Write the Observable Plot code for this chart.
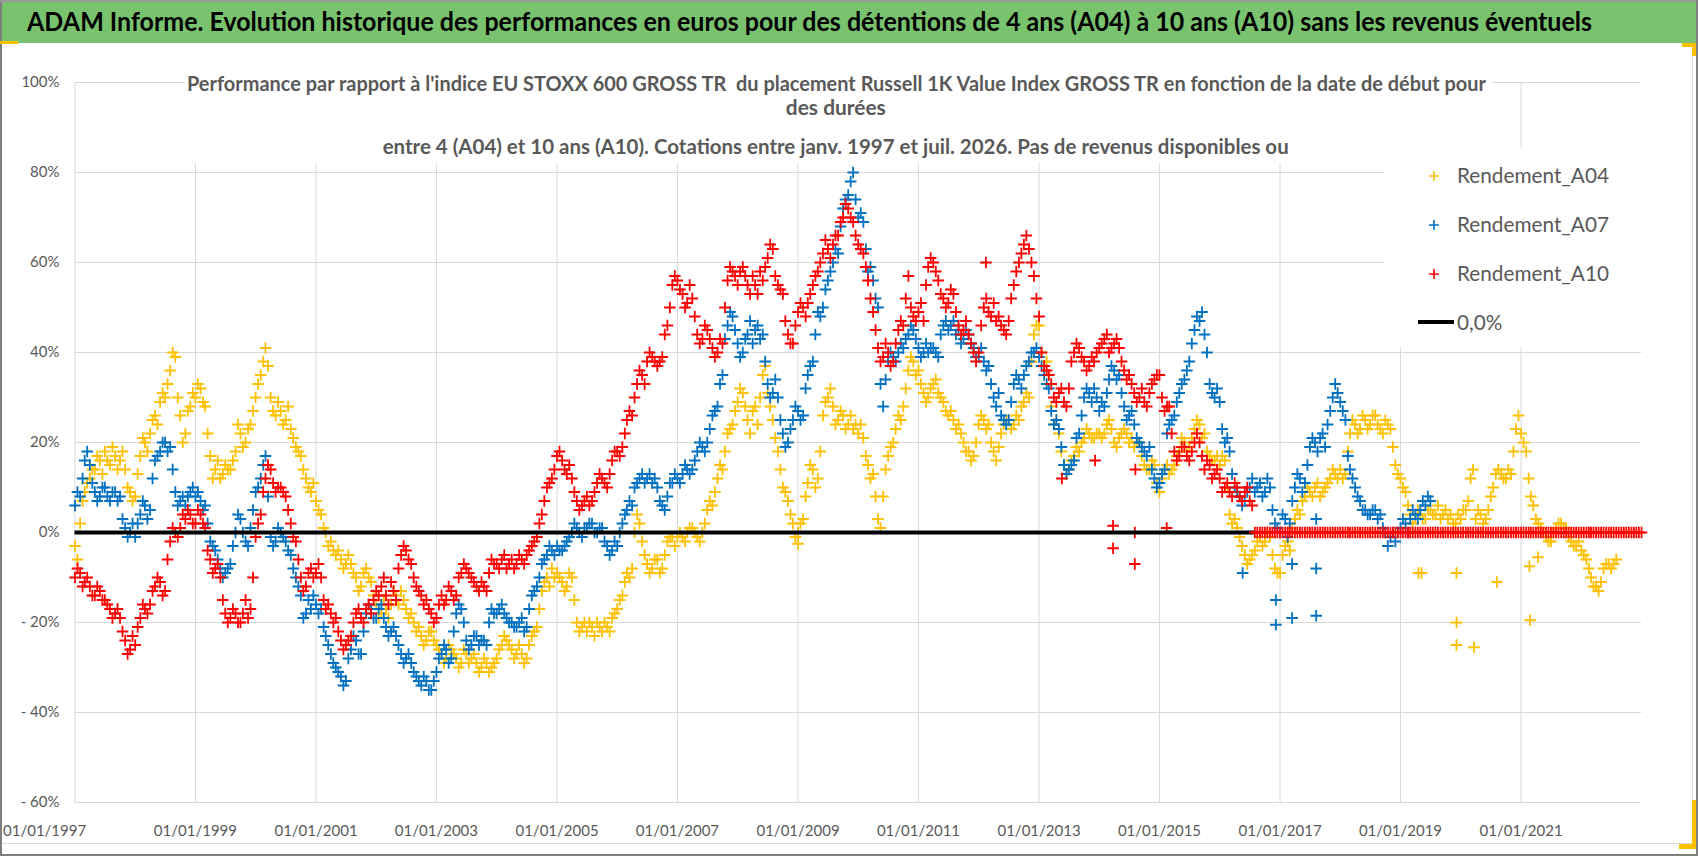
<!DOCTYPE html>
<html><head><meta charset="utf-8">
<script src="https://cdn.jsdelivr.net/npm/d3@7"></script>
<script src="https://cdn.jsdelivr.net/npm/@observablehq/plot@0.6"></script>
<style>
body{margin:0;background:#fff;}
#wrap{position:relative;width:1698px;height:856px;overflow:hidden;background:#fff;font-family:Lato,"Open Sans",sans-serif;}
#plot{position:absolute;left:0;top:43px;}
#header{position:absolute;left:0;top:0;width:1698px;height:43px;background:#79c36f;}
#title{position:absolute;left:27px;top:0;line-height:43px;font-size:26px;font-weight:700;color:#000;white-space:nowrap;display:inline-block;transform-origin:left center;}
#subbox{position:absolute;left:185px;top:64px;width:1307px;height:99px;background:#fff;}
.subline{position:absolute;left:0;width:1672px;text-align:center;line-height:24px;height:24px;}
.subline span{display:inline-block;font-size:20px;font-weight:700;color:#595959;white-space:pre;transform-origin:center center;}
#legend{position:absolute;left:1384px;top:148px;width:260px;height:199px;background:#fff;}
.lrow{position:absolute;left:1428px;height:28px;line-height:28px;}
.lrow svg{position:absolute;left:0;top:9px;}
.lrow span{position:absolute;left:29px;top:0;font-size:22px;color:#595959;white-space:nowrap;display:inline-block;transform-origin:left center;}
.bar{position:absolute;}
</style></head>
<body>
<div id="wrap">
  <div id="plot"></div>
  <div id="header"><div id="title">ADAM Informe. Evolution historique des performances en euros pour des détentions de 4 ans (A04) à 10 ans (A10) sans les revenus éventuels</div></div>
  <div id="subbox"></div>
  <div class="subline" style="top:71px"><span id="s1">Performance par rapport à l'indice EU STOXX 600 GROSS TR  du placement Russell 1K Value Index GROSS TR en fonction de la date de début pour</span></div>
  <div class="subline" style="top:95px"><span id="s2">des durées</span></div>
  <div class="subline" style="top:134px"><span id="s3">entre 4 (A04) et 10 ans (A10). Cotations entre janv. 1997 et juil. 2026. Pas de revenus disponibles ou</span></div>
  <div id="legend"></div>
  <div class="lrow" style="top:161px"><svg width="12" height="12"><path d="M1,6H11M6,1V11" stroke="#FFC000" stroke-width="1.6"/></svg><span id="l1">Rendement_A04</span></div>
  <div class="lrow" style="top:210px"><svg width="12" height="12"><path d="M1,6H11M6,1V11" stroke="#0070C0" stroke-width="1.6"/></svg><span id="l2">Rendement_A07</span></div>
  <div class="lrow" style="top:259px"><svg width="12" height="12"><path d="M1,6H11M6,1V11" stroke="#FF0000" stroke-width="1.6"/></svg><span id="l3">Rendement_A10</span></div>
  <div class="lrow" style="top:308px"><span id="l4">0,0%</span></div>
  <div class="bar" style="left:1418px;top:320px;width:36px;height:4px;background:#000"></div>
  <!-- frame -->
  <div class="bar" style="left:0;top:0;width:2px;height:856px;background:#7f7f7f"></div>
  <div class="bar" style="left:0;top:0;width:1698px;height:2px;background:#9a9a9a"></div>
  <div class="bar" style="left:0;top:854px;width:1698px;height:2px;background:#7f7f7f"></div>
  <div class="bar" style="left:1696px;top:0;width:2px;height:856px;background:#7f7f7f"></div>
  <div class="bar" style="left:2px;top:843px;width:1692px;height:1px;background:#d9d9d9"></div>
  <div class="bar" style="left:1692px;top:43px;width:1px;height:800px;background:#d9d9d9"></div>
  <div class="bar" style="left:0;top:41px;width:18px;height:3px;background:#FFC000"></div>
  <div class="bar" style="left:1682px;top:43px;width:14px;height:4px;background:#FFC000"></div>
  <div class="bar" style="left:1692px;top:43px;width:4px;height:13px;background:#FFC000"></div>
  <div class="bar" style="left:1692px;top:800px;width:4px;height:49px;background:#FFC000"></div>
  <div class="bar" style="left:1679px;top:844px;width:17px;height:5px;background:#FFC000"></div>
</div>
<script>
// ---- data: percent, read at the 1st (a..) and the 16th (..Mid) of each month from Jan 1997 ----
const START_YEAR = 1997;
const seriesNames = ["Rendement_A04", "Rendement_A07", "Rendement_A10"];
const seriesColors = ["#FFC000", "#0070C0", "#FF0000"];
const a04 = [
 -3, 2, 9, 12, 14, 16, 18, 15, 17, 16, 14, 9,
 8, 17, 20, 22, 26, 29, 30, 36, 39, 26, 22, 28,
 30, 32, 28, 17, 14, 12, 15, 14, 18, 22, 20, 24,
 30, 35, 41, 30, 26, 27, 25, 23, 19, 17, 12, 9,
 7, 4, 0, -2, -5, -6, -7, -7, -10, -12, -8, -11,
 -16, -18, -17, -16, -14, -13, -17, -18, -22, -23, -24, -22,
 -25, -27, -28, -26, -28, -29, -27, -28, -29, -30, -29, -30,
 -28, -25, -24, -26, -27, -27, -28, -23, -21, -13, -10, -8,
 -9, -11, -12, -10, -20, -21, -22, -21, -20, -22, -21, -19,
 -17, -14, -9, -8, 4, -2, -7, -8, -6, -8, -2, -1,
 -1, -1, 0, 1, -1, 0, 5, 6, 12, 14, 22, 24,
 29, 31, 25, 27, 24, 35, 31, 25, 18, 10, 7, 2,
 0, 3, 11, 14, 12, 26, 30, 28, 25, 26, 24, 23,
 22, 21, 15, 13, 3, 8, 17, 20, 26, 28, 36, 38,
 36, 31, 30, 33, 31, 29, 26, 25, 24, 20, 18, 17,
 24, 25, 24, 18, 19, 24, 25, 24, 25, 29, 30, 44,
 46, 37, 35, 24, 22, 15, 14, 17, 18, 21, 22, 21,
 22, 22, 25, 20, 21, 23, 20, 19, 20, 15, 14, 15,
 9, 14, 13, 15, 18, 20, 19, 23, 24, 22, 17, 16,
 15, 16, 4, 3, -1, -5, -6, -4, -1, -2, -1, -8,
 -9, -3, -4, 3, 4, 8, 9, 10, 8, 10, 12, 13,
 14, 13, 22, 24, 23, 25, 24, 26, 23, 25, 23, 15,
 12, 9, 4, 3, 4, 3, 5, 4, 3, 5, 4, 2,
 3, 5, 12, 3, 4, 3, 8, 13, 13, 12, 13, 23,
 22, 18, 8, 3, 1, -1, -2, 1, 2, 1, -2, -3,
 -4, -6, -10, -12, -11, -7, -8, -6
];
const a04Mid = [
 -6, 7, 11, 14, 17, 13, 16, 19, 14, 18, 10, 7,
 13, 21, 18, 25, 24, 31, 33, 40, 30, 20, 27, 31,
 33, 29, 22, 12, 16, 13, 14, 16, 24, 19, 23, 27,
 33, 38, 37, 27, 29, 24, 28, 21, 18, 14, 10, 11,
 5, 1, -3, -4, -4, -8, -5, -9, -13, -9, -10, -14,
 -19, -15, -19, -13, -16, -15, -19, -20, -21, -25, -22, -24,
 -26, -29, -25, -27, -30, -26, -29, -27, -31, -28, -31, -29,
 -26, -23, -25, -28, -25, -29, -25, -22, -17, -11, -12, -10,
 -10, -13, -9, -15, -22, -20, -20, -23, -21, -20, -22, -18,
 -15, -11, -10, 0, 2, -5, -9, -6, -9, -5, -1, -3,
 0, -2, 1, 0, -2, 2, 7, 9, 15, 18, 23, 27,
 32, 28, 22, 28, 30, 37, 28, 21, 14, 9, 4, -1,
 2, 8, 15, 10, 18, 29, 32, 24, 27, 23, 26, 24,
 24, 17, 12, 8, 1, 14, 19, 23, 25, 32, 39, 35,
 33, 29, 32, 34, 30, 27, 27, 23, 22, 18, 16, 20,
 26, 23, 20, 16, 22, 25, 23, 26, 28, 31, 38, 46,
 40, 38, 28, 25, 18, 13, 16, 19, 20, 23, 21, 22,
 21, 24, 23, 19, 22, 22, 21, 20, 17, 14, 16, 11,
 12, 15, 14, 17, 21, 18, 21, 25, 21, 18, 16, 17,
 17, 10, 2, 1, -3, -7, -5, -2, -3, 0, -5, -9,
 -5, -2, 1, 5, 7, 10, 8, 11, 9, 11, 14, 12,
 12, 18, 25, 22, 26, 23, 26, 24, 22, 24, 19, 13,
 10, 6, 2, 5, 3, 5, 4, 6, 4, 3, 2, 4,
 5, 7, 14, 5, 2, 5, 10, 14, 12, 14, 18, 26,
 20, 12, 6, 2, 0, -2, 0, 2, 1, -1, -3, -2,
 -5, -8, -12, -13, -8, -7, -7
];
const a07 = [
 6, 8, 16, 15, 9, 8, 10, 7, 9, 8, 1, 0,
 -1, 4, 6, 5, 16, 18, 20, 19, 9, 7, 6, 9,
 8, 7, 6, -2, -4, -8, -9, -7, 0, 3, -2, 1,
 9, 12, 17, -1, -2, 0, -2, -5, -10, -14, -18, -17,
 -16, -17, -23, -27, -30, -32, -33, -26, -24, -27, -18, -17,
 -19, -16, -21, -22, -23, -27, -28, -29, -32, -34, -33, -35,
 -31, -27, -26, -28, -18, -17, -24, -25, -23, -24, -25, -17,
 -18, -16, -19, -20, -21, -19, -21, -14, -12, -7, -5, -4,
 -3, -4, -2, 0, 1, -1, 1, 2, 0, 1, -3, -4,
 -3, 2, 5, 6, 11, 13, 12, 11, 10, 6, 8, 11,
 12, 13, 14, 14, 18, 19, 20, 26, 28, 35, 46, 48,
 42, 40, 44, 42, 46, 44, 33, 31, 30, 22, 20, 25,
 27, 26, 35, 38, 49, 50, 56, 60, 62, 72, 75, 80,
 70, 69, 58, 56, 50, 28, 38, 39, 40, 41, 44, 45,
 41, 40, 40, 41, 39, 46, 45, 47, 45, 43, 44, 41,
 39, 38, 37, 30, 31, 25, 25, 33, 34, 35, 38, 40,
 39, 35, 32, 24, 23, 15, 14, 16, 22, 30, 31, 32,
 27, 28, 34, 36, 35, 28, 26, 24, 20, 18, 19, 12,
 11, 14, 24, 26, 31, 34, 38, 45, 47, 44, 33, 30,
 29, 20, 18, 10, 8, 7, 10, 9, 11, 9, 10, 2,
 0, 3, 2, 10, 12, 11, 19, 20, 21, 19, 27, 33,
 29, 25, 14, 10, 7, 5, 4, 5, 4, 0, -1, -2,
 1, 2, 3, 4, 5, 6, 7
];
const a07Mid = [
 9, 12, 18, 11, 7, 10, 8, 9, 7, 3, -1, 2,
 2, 7, 3, 12, 17, 20, 18, 14, 6, 8, 8, 10,
 9, 5, 2, -3, -6, -10, -8, -3, 4, 0, -3, 5,
 10, 15, 8, -3, 1, -1, -4, -8, -12, -19, -15, -14,
 -18, -21, -25, -29, -31, -34, -28, -23, -27, -22, -16, -19,
 -17, -19, -23, -21, -25, -29, -27, -31, -33, -32, -35, -33,
 -28, -25, -29, -22, -16, -20, -26, -23, -25, -24, -20, -18,
 -17, -18, -20, -21, -20, -22, -17, -13, -10, -6, -3, -5,
 -4, -3, -1, 2, 0, 1, 2, 0, 1, -2, -5, -2,
 0, 4, 7, 10, 12, 11, 13, 12, 7, 5, 11, 13,
 11, 15, 13, 16, 20, 18, 23, 27, 33, 43, 49, 45,
 39, 43, 47, 45, 43, 38, 30, 34, 25, 19, 23, 28,
 25, 32, 37, 44, 48, 54, 58, 63, 68, 74, 78, 74,
 71, 63, 59, 52, 33, 34, 40, 38, 42, 43, 46, 43,
 39, 42, 41, 40, 44, 47, 46, 44, 42, 45, 42, 39,
 41, 36, 33, 28, 26, 24, 29, 35, 32, 37, 40, 41,
 37, 33, 27, 25, 19, 13, 15, 21, 26, 32, 29, 30,
 29, 31, 37, 34, 31, 25, 27, 21, 19, 17, 14, 10,
 13, 22, 25, 29, 33, 36, 42, 48, 49, 40, 31, 32,
 23, 21, 13, 9, 6, 9, 12, 10, 8, 12, 5, 1,
 4, -1, 7, 13, 9, 15, 21, 18, 22, 24, 30, 31,
 27, 17, 12, 8, 5, 4, 5, 3, 1, -3, 0, 0,
 3, 0, 5, 3, 7, 8
];
const a10 = [
 -10, -9, -11, -12, -14, -13, -15, -17, -18, -19, -24, -26,
 -25, -19, -17, -16, -12, -11, -13, -2, 0, 1, 3, 4,
 2, 4, 1, -6, -8, -10, -18, -19, -18, -20, -15, -17,
 -1, 4, 12, 14, 9, 10, 8, 2, -2, -10, -12, -8,
 -9, -10, -17, -18, -19, -24, -25, -23, -18, -19, -17, -18,
 -13, -12, -14, -11, -15, -5, -4, -7, -12, -14, -15, -18,
 -19, -14, -15, -13, -14, -9, -8, -10, -12, -11, -13, -6,
 -7, -6, -8, -6, -7, -6, -5, -3, -1, 4, 10, 12,
 17, 16, 13, 12, 7, 6, 8, 7, 11, 12, 10, 16,
 18, 19, 25, 26, 33, 35, 38, 39, 37, 39, 46, 55,
 56, 53, 51, 52, 44, 43, 45, 41, 40, 42, 56, 58,
 55, 59, 55, 57, 53, 56, 61, 63, 55, 53, 44, 42,
 49, 50, 51, 55, 58, 62, 63, 64, 66, 70, 72, 69,
 64, 62, 56, 49, 41, 39, 40, 38, 45, 46, 57, 48,
 49, 47, 59, 60, 56, 52, 51, 53, 46, 45, 44, 40,
 40, 50, 49, 51, 48, 45, 47, 55, 60, 64, 63, 57,
 48, 37, 35, 30, 31, 29, 32, 40, 41, 38, 37, 38,
 41, 43, 40, 42, 41, 36, 35, 31, 30, 29, 31, 34,
 35, 27, 28, 18, 17, 19, 16, 20, 20, 14, 15, 13,
 12, 10, 9, 11, 8, 9, 7, 0, 0, 0, 0, 0,
 0, 0, 0, 0, 0, 0, 0, 0, 0, 0, 0, 0,
 0, 0, 0, 0, 0, 0, 0, 0, 0, 0, 0, 0,
 0, 0, 0, 0, 0, 0, 0, 0, 0, 0, 0, 0,
 0, 0, 0, 0, 0, 0, 0, 0, 0, 0, 0, 0,
 0, 0, 0, 0, 0, 0, 0, 0, 0, 0, 0, 0,
 0, 0, 0, 0, 0, 0, 0, 0, 0, 0, 0, 0,
 0
];
const a10Mid = [
 -8, -12, -10, -14, -12, -15, -16, -19, -17, -22, -27, -23,
 -21, -16, -18, -13, -10, -14, -6, 1, -1, 4, 5, 2,
 5, 2, -4, -9, -7, -15, -20, -17, -20, -18, -19, -10,
 2, 9, 15, 11, 10, 9, 5, -1, -6, -13, -9, -10,
 -7, -15, -16, -20, -22, -26, -24, -20, -17, -20, -16, -15,
 -14, -10, -16, -13, -8, -3, -6, -10, -13, -16, -17, -20,
 -16, -16, -12, -15, -10, -7, -9, -11, -13, -12, -9, -7,
 -8, -5, -7, -8, -5, -7, -4, -2, 2, 7, 11, 14,
 18, 14, 15, 9, 5, 7, 6, 9, 13, 11, 13, 18,
 17, 22, 27, 30, 36, 33, 40, 38, 38, 44, 50, 57,
 54, 50, 55, 48, 42, 46, 43, 39, 43, 50, 59, 57,
 58, 57, 53, 55, 58, 59, 64, 57, 54, 47, 42, 46,
 51, 48, 53, 57, 60, 65, 61, 66, 69, 73, 70, 66,
 63, 59, 52, 45, 38, 42, 37, 42, 47, 52, 50, 47,
 51, 55, 61, 58, 53, 50, 54, 49, 44, 47, 42, 38,
 46, 52, 48, 47, 46, 44, 52, 58, 62, 66, 60, 52,
 40, 36, 33, 29, 32, 28, 38, 42, 39, 36, 39, 40,
 42, 44, 41, 43, 38, 34, 33, 29, 32, 28, 33, 35,
 30, 28, 22, 16, 19, 17, 18, 22, 17, 16, 12, 14,
 9, 11, 8, 10, 7, 10, 6, 0, 0, 0, 0, 0,
 0, 0, 0, 0, 0, 0, 0, 0, 0, 0, 0, 0,
 0, 0, 0, 0, 0, 0, 0, 0, 0, 0, 0, 0,
 0, 0, 0, 0, 0, 0, 0, 0, 0, 0, 0, 0,
 0, 0, 0, 0, 0, 0, 0, 0, 0, 0, 0, 0,
 0, 0, 0, 0, 0, 0, 0, 0, 0, 0, 0, 0,
 0, 0, 0, 0, 0, 0, 0, 0, 0, 0, 0, 0
];
// isolated points [decimal year, percent]
const a04Extra = [[2009.0, -2.5], [2019.3, -9], [2019.35, -9], [2019.93, -9], [2019.93, -20], [2019.93, -25], [2020.22, -25.5], [2020.6, -11], [2021.14, -7.5], [2021.28, -5.5], [2021.15, -19.5]];
const a07Extra = [[2016.38, -9], [2016.93, -20.5], [2016.93, -15], [2017.2, -19], [2017.2, -7], [2017.6, -8], [2017.6, -18.5], [2017.6, 3]];
const a10Extra = [[2012.12, 60], [2013.38, 12], [2013.93, 16], [2014.23, 1.5], [2014.23, -3.5], [2014.59, 0], [2014.59, -7], [2014.6, 14], [2015.12, 1]];
const xTickYears = [1997, 1999, 2001, 2003, 2005, 2007, 2009, 2011, 2013, 2015, 2017, 2019, 2021];
const xDomainYears = [1997, 2023];
const yTicks = [-60, -40, -20, 0, 20, 40, 60, 80, 100];

// ---- build table ----
const monthDate = (i, day) => new Date(Date.UTC(START_YEAR, i, day));
const yearDate = y => { const yr = Math.floor(y), t0 = Date.UTC(yr, 0, 1), t1 = Date.UTC(yr + 1, 0, 1); return new Date(t0 + (y - yr) * (t1 - t0)); };
const rows = [];
[[a04, a04Mid, a04Extra], [a07, a07Mid, a07Extra], [a10, a10Mid, a10Extra]].forEach(([vals, mids, extra], k) => {
  vals.forEach((v, i) => rows.push({s: seriesNames[k], date: monthDate(i, 1), v}));
  mids.forEach((v, i) => rows.push({s: seriesNames[k], date: monthDate(i, 16), v}));
  extra.forEach(([y, v]) => rows.push({s: seriesNames[k], date: yearDate(y), v}));
});
const tickDates = xTickYears.map(y => new Date(Date.UTC(y, 0, 1)));
const isTailZero = d => d.s === seriesNames[2] && d.v === 0 && d.date >= yearDate(2016);
const firstZero = rows.filter(isTailZero).map(d => d.date).sort((a, b) => a - b)[0];
const zeroLine = [{y: 0, x1: tickDates[0], x2: firstZero}];
const fmtPct = v => v < 0 ? "- " + (-v) + "%" : v + "%";
const fmtDate = d3.utcFormat("%d/%m/%Y");
const dotOpts = k => ({x: "date", y: "v", symbol: "plus", r: 3.8, stroke: seriesColors[k], strokeWidth: 1.8});

const chart = Plot.plot({
  width: 1698, height: 813,
  marginLeft: 74.5, marginRight: 57, marginTop: 39, marginBottom: 54,
  style: {fontFamily: "Lato, 'Open Sans', sans-serif", fontSize: "15px", color: "#595959", background: "transparent", overflow: "visible"},
  x: {type: "utc", domain: xDomainYears.map(y => new Date(Date.UTC(y, 0, 1)))},
  y: {domain: [yTicks[0], yTicks[yTicks.length - 1]]},
  marks: [
    Plot.gridY(yTicks, {stroke: "#d9d9d9", strokeOpacity: 1}),
    Plot.gridX(tickDates, {stroke: "#d9d9d9", strokeOpacity: 1}),
    Plot.dot(rows.filter(d => d.s === seriesNames[0]), dotOpts(0)),
    Plot.dot(rows.filter(d => d.s === seriesNames[1]), dotOpts(1)),
    Plot.dot(rows.filter(d => d.s === seriesNames[2] && !isTailZero(d)), dotOpts(2)),
    Plot.ruleY(zeroLine, {y: "y", x1: "x1", x2: "x2", stroke: "#000", strokeWidth: 4}),
    Plot.dot(rows.filter(isTailZero), dotOpts(2)),
    Plot.axisY(yTicks, {tickSize: 0, tickPadding: 15.5, tickFormat: fmtPct, fontSize: 15}),
    Plot.axisX(tickDates.slice(0, 1), {tickSize: 0, tickPadding: 23, tickFormat: fmtDate, fontSize: 15, textAnchor: "start", dx: -72}),
    Plot.axisX(tickDates.slice(1), {tickSize: 0, tickPadding: 23, tickFormat: fmtDate, fontSize: 15})
  ]
});
document.getElementById("plot").appendChild(chart);

// ---- fit text widths to the reference ----
function fit(id, w) {
  const el = document.getElementById(id);
  el.style.transform = "none";
  const r = el.getBoundingClientRect().width;
  if (r > 0) el.style.transform = "scaleX(" + (w / r) + ")";
}
function fitAll() {
  fit("title", 1565);
  fit("s1", 1299); fit("s2", 100); fit("s3", 906);
  fit("l1", 152); fit("l2", 152); fit("l3", 152);
  document.getElementById("l4").style.transform = document.getElementById("l1").style.transform;
}
fitAll();
if (document.fonts && document.fonts.ready) document.fonts.ready.then(fitAll);
</script>
</body></html>
